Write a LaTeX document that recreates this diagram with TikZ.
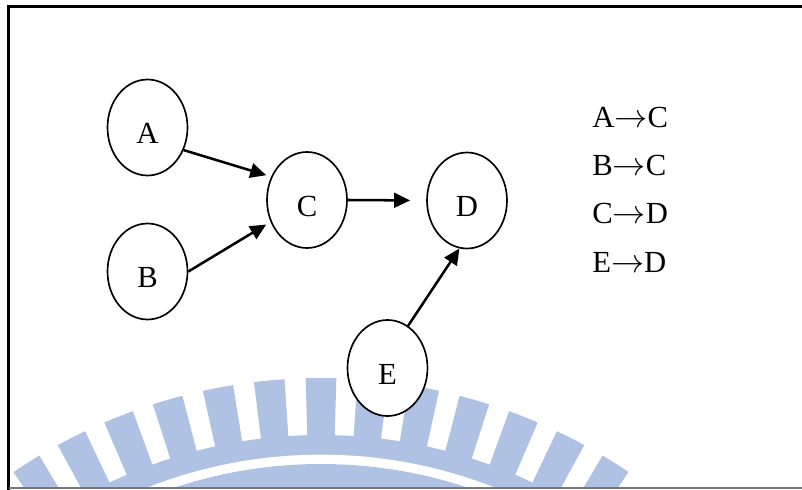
\documentclass[tikz,border=0pt]{standalone}
\usepackage{fontspec}
\setmainfont{Liberation Serif}
\usetikzlibrary{shapes.geometric,arrows.meta}

\definecolor{wmblue}{RGB}{176,194,228}
\definecolor{framegray}{RGB}{120,120,120}

\tikzset{
  state/.style={ellipse, draw=black, line width=1.25pt, fill=white,
    minimum width=60pt, minimum height=72pt, inner sep=0pt,
    text height=24pt, text depth=0pt,
    font=\fontsize{23}{27}\selectfont},
  edge/.style={line width=1.9pt, -{Triangle[length=12pt,width=11pt]}},
  rule/.style={anchor=base west, inner sep=0pt, font=\fontsize{23}{27}\selectfont},
  wm/.style={fill=wmblue, draw=none}
}
\newcommand{\yields}{$\rightarrow$}

\begin{document}
\begin{tikzpicture}[x=0.75pt, y=-0.75pt]
  \useasboundingbox (0,0) rectangle (802,489);

  % faint emblem in the lower part of the panel
  \begin{scope}
    \clip (9,8) rectangle (802,487);
    \begin{scope}[shift={(321,928)}]
      \foreach \k in {-6,...,6}{
        \pgfmathsetmacro{\c}{90+5.4*\k}
        \fill[wm] (\c-1.6:368pt) -- (\c-1.6:412.5pt)
          arc[start angle=\c-1.6, end angle=\c+1.6, radius=412.5pt]
          -- (\c+1.6:368pt) -- cycle;
      }
      \fill[wm] (0,0) circle[radius=369.75pt];
      \fill[white] (0,0) circle[radius=355pt];
      \fill[wm] (0,0) circle[radius=348pt];
    \end{scope}
  \end{scope}

  % panel frame
  \draw[line width=1.8pt, line cap=rect] (802,6.5) -- (8.5,6.5) -- (8.5,489);
  \draw[framegray, line width=1.8pt] (8.5,488) -- (802,488);

  % states
  \node[state] (A) at (147.5,127.5) {A};
  \node[state] (B) at (147.5,271.5) {B};
  \node[state] (C) at (307,200) {C};
  \node[state] (D) at (467,200.5) {D};
  \node[state] (E) at (387.5,368) {E};

  % dependencies
  \draw[edge, shorten >=3.8pt] (A.-32) -- (C.147);
  \draw[edge, shorten >=3.8pt] (B.0) -- (C.211);
  \draw[edge, shorten >=12pt] (C.0) -- (D.180);
  \draw[edge] (E.64) -- (D.261);

  % list of edges
  \node[rule] (r1) at (592,127) {A\yields C};
  \node[rule] (r2) at (592,175) {B\yields C};
  \node[rule] (r3) at (592,223) {C\yields D};
  \node[rule] (r4) at (592,272) {E\yields D};
\end{tikzpicture}
\end{document}
